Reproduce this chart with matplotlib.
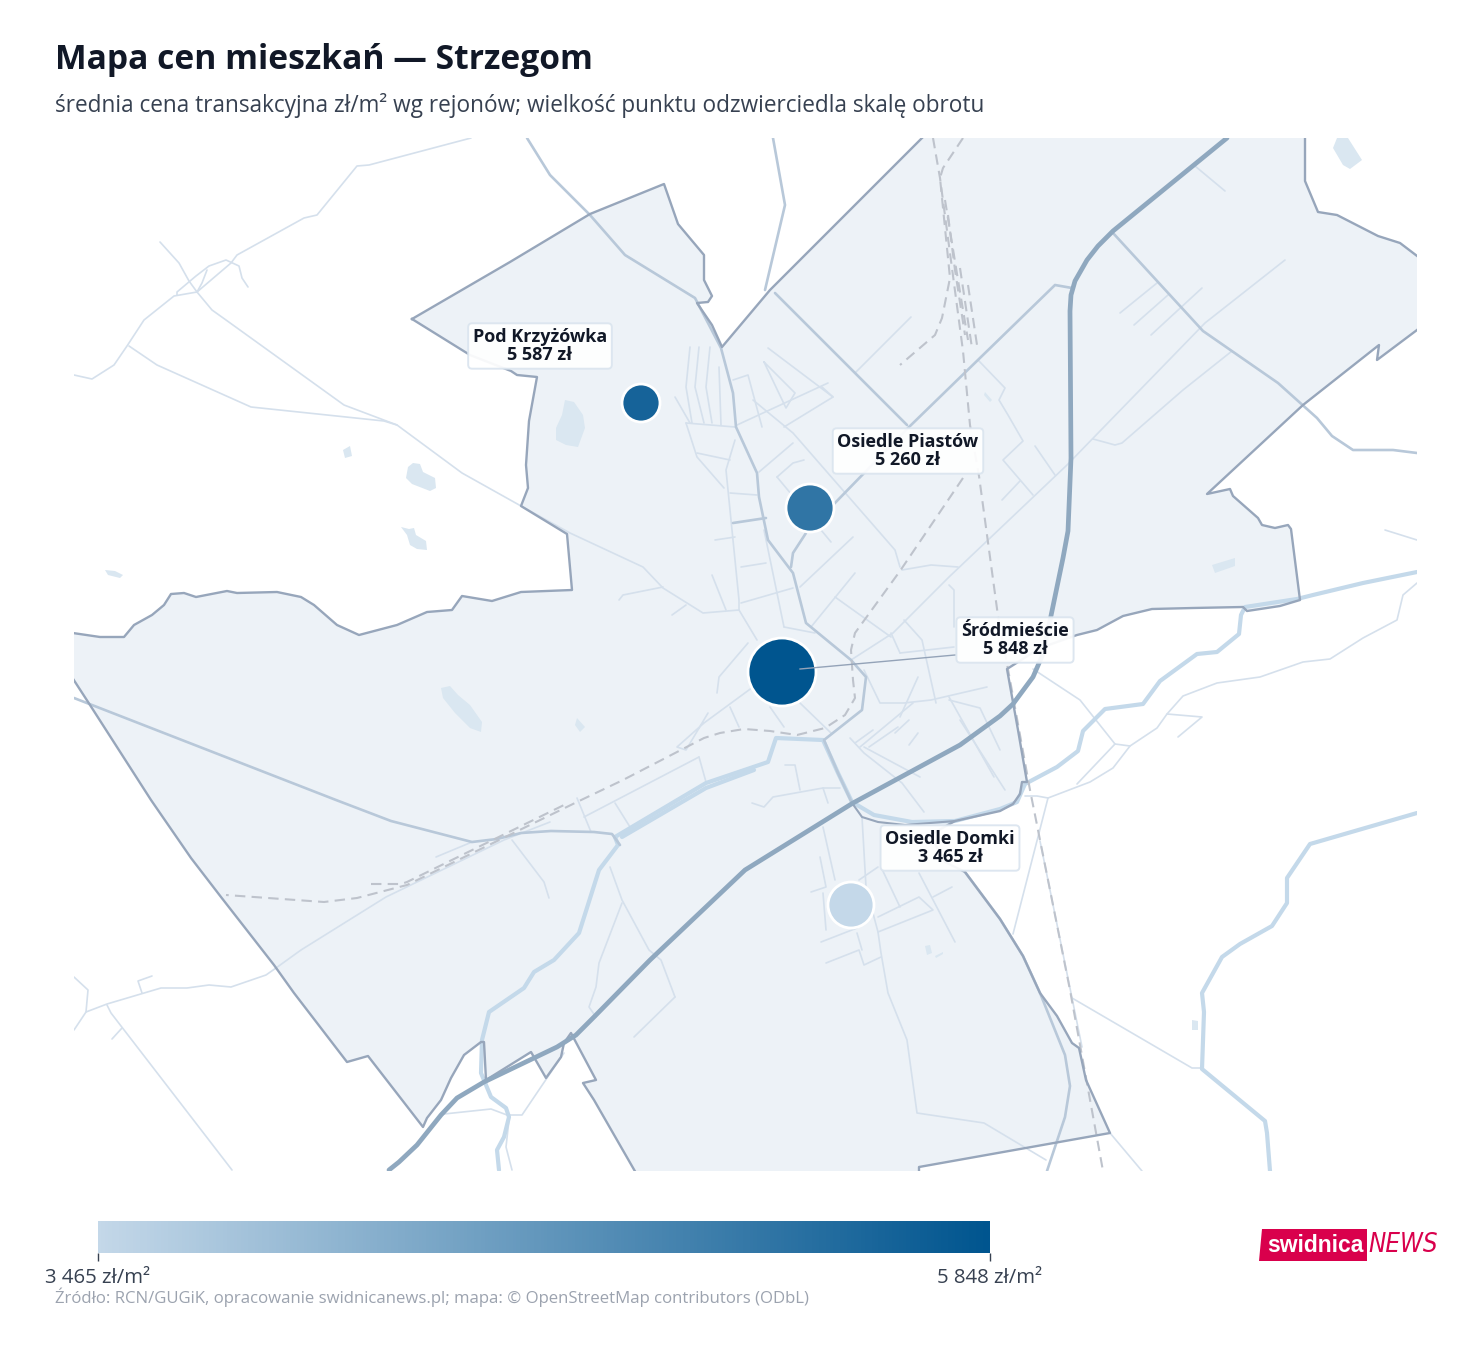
import numpy as np
import matplotlib
matplotlib.use('Agg')
import matplotlib.pyplot as plt
from matplotlib.colors import LinearSegmentedColormap, Normalize

# rejony
names = ['Pod Krzyżówka', 'Osiedle Piastów', 'Śródmieście', 'Osiedle Domki']
prices = [5587, 5260, 5848, 3465]
price_labels = ['5 587 zł', '5 260 zł', '5 848 zł', '3 465 zł']
point_x = [641, 810, 782, 851]
point_y = [403, 508, 672, 905]
radius_px = [19, 24, 34, 23]
label_x = [540, 908, 1015, 950]
label_y = [346, 451, 640, 848]
bar_ticks = [3465, 5848]
bar_labels = ['3 465 zł/m²', '5 848 zł/m²']

# map geometry (projected map units)
boundary = [(412, 319), (510, 262), (590, 214), (664, 184), (678, 224), (704, 255), (704, 280), (712, 296),
            (708, 302), (697, 303), (712, 325), (722, 347), (770, 290), (850, 210), (922, 138), (930, 130),
            (1305, 130), (1305, 181), (1318, 212), (1337, 215), (1378, 236), (1400, 243), (1417, 256),
            (1425, 262), (1425, 323), (1417, 330), (1377, 360), (1379, 345), (1303, 405), (1207, 494),
            (1230, 489), (1233, 496), (1258, 518), (1262, 525), (1275, 528), (1288, 525), (1291, 529), (1300, 600),
            (1280, 606), (1247, 611), (1243, 607), (1193, 608), (1152, 609), (1123, 616), (1097, 630), (1077, 635),
            (1040, 648), (1007, 669), (1018, 730), (1027, 782), (1022, 782), (1020, 794), (1013, 804), (1000, 811),
            (955, 821), (930, 835), (945, 862), (965, 872), (1000, 919), (1023, 956), (1040, 993), (1057, 1016),
            (1072, 1043), (1079, 1048), (1086, 1080), (1110, 1133), (919, 1167), (919, 1180), (640, 1180), (594, 1100),
            (583, 1083), (596, 1080), (571, 1033), (564, 1043), (561, 1057), (546, 1078), (531, 1052), (486, 1080),
            (484, 1042), (481, 1042), (464, 1055), (451, 1078), (441, 1100), (427, 1118), (423, 1127), (368, 1056),
            (347, 1062), (294, 993), (274, 965), (221, 897), (191, 858), (151, 800), (90, 705), (66, 668), (66, 632),
            (100, 637), (124, 637), (134, 625), (152, 615), (164, 605), (171, 594), (184, 593), (196, 597), (217, 593),
            (227, 591), (237, 593), (277, 592), (301, 597), (314, 605), (337, 625), (359, 635), (397, 625), (427, 612),
            (452, 610), (462, 596), (492, 601), (521, 592), (572, 590), (567, 534), (521, 506), (528, 488), (526, 465),
            (529, 421), (537, 377), (517, 375), (511, 371), (470, 355), (412, 319)]
boundary_inner = [(852, 803), (862, 817), (878, 822), (905, 825), (955, 821)]

water = [
    [(565, 400), (574, 402), (583, 415), (585, 428), (578, 447), (566, 445), (556, 440), (556, 428), (562, 415)],
    [(408, 467), (413, 463), (420, 464), (423, 472), (435, 478), (436, 488), (430, 491), (412, 484), (406, 478)],
    [(401, 527), (409, 529), (414, 528), (416, 535), (426, 541), (427, 550), (417, 549), (410, 545), (407, 535)],
    [(441, 688), (450, 686), (458, 695), (470, 705), (482, 722), (481, 732), (470, 728), (455, 713), (443, 698)],
    [(577, 718), (585, 727), (580, 732), (575, 725)],
    [(343, 450), (350, 446), (352, 456), (345, 458)],
    [(105, 570), (115, 571), (123, 575), (120, 578), (108, 575)],
    [(1337, 138), (1348, 138), (1362, 160), (1350, 169), (1343, 165), (1333, 148)],
    [(1192, 1020), (1198, 1021), (1198, 1030), (1192, 1030)],
    [(925, 946), (930, 945), (932, 953), (927, 955)],
    [(1212, 565), (1235, 558), (1235, 566), (1215, 573)],
    [(985, 392), (992, 400), (990, 402), (984, 395)],
    [(935, 956), (943, 952), (943, 954), (936, 958)],
]

thin_roads = [
    [(471, 138), (369, 165), (357, 166), (317, 215), (304, 218), (237, 255), (231, 263), (197, 292), (174, 296),
     (144, 320), (127, 346), (114, 365), (92, 379), (74, 375)],
    [(160, 242), (179, 263), (189, 281), (197, 292), (212, 310), (226, 320), (344, 405), (397, 425), (462, 473),
     (521, 506), (570, 533), (643, 567), (663, 588), (703, 613), (739, 610), (757, 640)],
    [(129, 346), (157, 365), (251, 407), (384, 421), (397, 425)],
    [(177, 295), (177, 292), (196, 276), (209, 266), (226, 260), (239, 266), (242, 278), (248, 287)],
    [(207, 270), (202, 283), (197, 292)],
    [(74, 977), (88, 990), (86, 1012), (74, 1030)],
    [(86, 1012), (107, 1004), (161, 988), (187, 988), (209, 985), (231, 987), (266, 975), (276, 968), (301, 950),
     (386, 897), (504, 840), (550, 822)],
    [(107, 1005), (111, 1013), (232, 1170)], [(122, 1028), (112, 1039)],
    [(142, 993), (138, 981), (152, 976)],
    [(1417, 540), (1385, 530)],
    [(1417, 583), (1403, 595), (1397, 620), (1363, 638), (1330, 659), (1303, 662), (1260, 677), (1217, 683),
     (1183, 696), (1167, 714), (1157, 728), (1130, 746), (1115, 744), (1080, 700), (1033, 669)],
    [(1115, 744), (1077, 784)], [(1130, 746), (1113, 768), (1090, 782), (1048, 798), (1037, 796), (1025, 796)],
    [(1048, 798), (1013, 934)],
    [(1167, 714), (1202, 717), (1178, 737)],
    [(1072, 998), (1192, 1068), (1202, 1068)], [(1040, 841), (1082, 1047)], [(1110, 1133), (1142, 1171)],
    [(444, 1114), (491, 1109), (507, 1115), (522, 1115), (547, 1078), (564, 1053)],
    [(509, 1120), (506, 1147), (512, 1170)],
    [(1285, 260), (1205, 323), (1067, 465), (949, 577), (893, 633), (851, 660)],
    [(1195, 166), (1225, 191)], [(1120, 313), (1157, 283)], [(1134, 325), (1168, 295)], [(1151, 335), (1202, 288)],
    [(1232, 351), (1183, 390), (1122, 443), (1115, 445), (1093, 439)],
    [(911, 317), (855, 373)],
    # centrum
    [(690, 347), (686, 387), (692, 423)], [(699, 347), (695, 387), (704, 423)], [(710, 347), (706, 387), (712, 423)],
    [(719, 367), (721, 425)], [(686, 423), (735, 427)], [(675, 397), (690, 423)],
    [(686, 423), (697, 457), (724, 488)], [(697, 453), (730, 460)],
    [(735, 440), (726, 470), (739, 600), (739, 610)], [(730, 493), (757, 495)], [(715, 540), (735, 537)],
    [(741, 567), (766, 563)], [(741, 603), (793, 588)], [(712, 575), (726, 610)], [(764, 530), (784, 627)],
    [(619, 600), (623, 595), (663, 587)], [(672, 615), (686, 605)],
    [(733, 380), (748, 375), (762, 427)], [(768, 348), (833, 397), (784, 427)],
    [(764, 362), (795, 393), (786, 408), (764, 362)], [(753, 400), (793, 433), (895, 550), (900, 567)],
    [(737, 425), (828, 383)], [(759, 472), (793, 443)], [(777, 477), (793, 463), (804, 460)],
    [(777, 477), (831, 542)], [(853, 537), (800, 587)], [(822, 387), (833, 397)],
    [(902, 570), (931, 565), (958, 567)], [(835, 597), (891, 637)], [(855, 573), (811, 627)],
    [(949, 585), (954, 590), (954, 627)], [(904, 620), (922, 640), (936, 703)],
    [(987, 687), (931, 700), (904, 703), (880, 703), (864, 670)], [(949, 700), (980, 708), (1000, 750)],
    [(918, 677), (900, 717)], [(891, 633), (900, 653)], [(900, 653), (954, 647)],
    [(978, 360), (1005, 388), (999, 400), (1008, 415), (1023, 441), (1003, 460), (1033, 495)],
    [(1035, 446), (1055, 475)], [(1020, 481), (1002, 500)],
    [(753, 687), (704, 723), (677, 747), (686, 750), (708, 713)], [(730, 707), (739, 727)],
    [(784, 627), (815, 633)], [(800, 703), (831, 733)], [(770, 707), (784, 727)],
    [(748, 643), (719, 677), (717, 693)], [(860, 747), (913, 703)], [(898, 727), (869, 747)],
    [(864, 747), (920, 777)], [(949, 697), (994, 777)], [(873, 730), (855, 743)], [(909, 720), (895, 733)],
    [(918, 733), (909, 745)],
    # poludnie
    [(862, 817), (866, 887), (878, 932), (881, 953), (888, 993), (907, 1040), (917, 1113), (984, 1123), (1046, 1160)],
    [(823, 827), (835, 880)], [(820, 857), (826, 887), (811, 892)], [(823, 893), (826, 930)],
    [(821, 942), (857, 928)], [(826, 963), (859, 950), (864, 965), (881, 957)], [(857, 933), (862, 950)],
    [(881, 867), (900, 907)], [(878, 917), (919, 897), (933, 910), (878, 932)], [(919, 873), (955, 942)],
    [(933, 897), (952, 887)], [(859, 880), (878, 867)],
    [(610, 867), (622, 900), (649, 950), (661, 960), (675, 997)], [(675, 997), (634, 1037)],
    [(622, 903), (599, 963), (596, 987), (589, 1007), (596, 1017)],
    [(512, 840), (544, 882), (549, 898)], [(584, 817), (699, 757)], [(699, 757), (706, 782)],
    [(577, 798), (591, 832)], [(615, 803), (630, 827)], [(436, 857), (472, 842)],
    [(752, 803), (764, 807), (773, 797), (823, 788), (840, 788)], [(785, 765), (795, 765), (800, 790)],
    [(823, 788), (828, 803)], [(850, 738), (864, 753), (902, 783), (924, 812)], [(960, 720), (1005, 790)],
]

major_roads = [
    [(527, 138), (550, 175), (590, 215), (625, 255), (695, 298), (721, 348), (733, 393), (736, 427), (757, 473),
     (759, 497), (768, 540), (793, 573), (806, 623), (851, 660), (866, 677), (862, 710), (824, 740), (838, 773),
     (852, 803)],
    [(1113, 233), (1203, 331), (1278, 383), (1317, 418), (1332, 436), (1353, 450), (1393, 450), (1417, 453)],
    [(1072, 288), (1055, 285), (908, 428), (833, 505)],
    [(806, 533), (793, 553), (791, 567)],
    [(775, 293), (907, 425)],
    [(74, 698), (336, 800), (391, 821), (472, 842), (497, 839), (521, 833), (551, 831), (594, 832), (612, 834),
     (620, 845)],
    [(1047, 1171), (1065, 1117), (1070, 1086), (1065, 1055), (1040, 993), (1023, 956), (1000, 919), (965, 872)],
    [(773, 138), (785, 205), (765, 290)],
    [(733, 523), (766, 518)],
]

motorway = [(1227, 138), (1113, 231), (1098, 246), (1087, 260), (1075, 281), (1071, 295), (1070, 311), (1071, 458),
            (1068, 531), (1063, 558), (1052, 611), (1043, 654), (1033, 677), (1013, 704), (1000, 716), (960, 745),
            (853, 803), (745, 870), (650, 960), (594, 1017), (576, 1035), (557, 1047), (484, 1082), (457, 1098),
            (441, 1115), (417, 1145), (399, 1162), (389, 1170)]

rivers = [
    [(1417, 572), (1363, 583), (1313, 595), (1297, 599), (1245, 607), (1241, 615), (1239, 634), (1217, 652),
     (1197, 654), (1160, 681), (1143, 704), (1105, 709), (1083, 731), (1078, 751), (1057, 767), (1025, 784),
     (1017, 802), (1000, 809), (955, 821), (912, 822), (874, 815), (852, 802), (838, 773), (823, 740), (776, 738),
     (768, 762), (706, 783), (615, 837), (618, 845), (599, 870), (579, 933), (554, 960), (534, 972), (524, 988),
     (489, 1012), (482, 1040), (481, 1073), (491, 1097), (506, 1108), (509, 1117), (504, 1137), (497, 1150),
     (499, 1170)],
    [(1417, 813), (1310, 844), (1287, 878), (1287, 903), (1272, 926), (1240, 944), (1222, 957), (1202, 993),
     (1204, 1012), (1202, 1069), (1265, 1121), (1267, 1133), (1270, 1171)],
    [(754, 770), (706, 788), (622, 837)],
]

rail = [
    [(933, 138), (940, 178), (963, 351), (970, 425), (979, 476), (998, 616), (1010, 680), (1030, 790), (1070, 990),
     (1103, 1171)],
    [(963, 138), (943, 168), (940, 178), (950, 278), (942, 318), (935, 335), (900, 365)],
    [(963, 478), (900, 571), (855, 633), (851, 650), (853, 680), (855, 698), (845, 715), (825, 728), (797, 735),
     (770, 731), (744, 729), (720, 733), (704, 738), (623, 780), (577, 802), (407, 885), (357, 898), (324, 902),
     (226, 895)],
    [(968, 285), (977, 345)], [(960, 268), (972, 348)], [(945, 200), (958, 280), (968, 340)],
    [(948, 215), (955, 270), (965, 335)],
    [(371, 884), (401, 884), (407, 882), (564, 805)],
]

blue_cmap = LinearSegmentedColormap.from_list('ceny', ['#c4d8e9', '#00558f'])
norm = Normalize(min(prices), max(prices))


def draw_lines(ax, paths, color, lw, zorder, **kw):
    for p in paths:
        pts = np.array(p)
        ax.plot(pts[:, 0], pts[:, 1], color=color, lw=lw, zorder=zorder,
                solid_joinstyle='round', solid_capstyle='round', **kw)


plt.rcParams['font.family'] = ['Open Sans', 'Noto Sans', 'DejaVu Sans']
W, H = 1481, 1352
fig = plt.figure(figsize=(W / 100, H / 100), dpi=100, facecolor='white')

ax = fig.add_axes([74 / W, 1 - 1171 / H, (1417 - 74) / W, (1171 - 138) / H])
ax.set_xlim(74, 1417)
ax.set_ylim(1171, 138)
ax.axis('off')

b = np.array(boundary)
ax.fill(b[:, 0], b[:, 1], color='#edf2f7', lw=0, zorder=1)
for w in water:
    w = np.array(w)
    ax.fill(w[:, 0], w[:, 1], color='#dae7f1', lw=0, zorder=2)
draw_lines(ax, thin_roads, '#d5e0ec', 1.2, 3)
draw_lines(ax, rivers, '#c4d9ea', 3.0, 4)
draw_lines(ax, major_roads, '#b8c8d9', 1.9, 5)
for p in rail:
    p = np.array(p)
    ax.plot(p[:, 0], p[:, 1], color='#bec3cc', lw=1.5, ls=(0, (5, 3)), zorder=6)
ax.plot(b[:, 0], b[:, 1], color='#97a6bb', lw=1.7, zorder=7)
draw_lines(ax, [boundary_inner], '#97a6bb', 1.5, 7)
draw_lines(ax, [motorway], '#8fa8bf', 3.4, 8)

ax.scatter(point_x, point_y, s=[(2 * r * 0.72) ** 2 for r in radius_px], c=prices, cmap=blue_cmap, norm=norm,
           edgecolors='white', linewidths=2.0, zorder=10)
# linia do etykiety
ax.plot([800, 955], [669, 655], color='#94a3b8', lw=1.0, zorder=11)
for name, val, x, y in zip(names, price_labels, label_x, label_y):
    ax.text(x, y, name + '\n' + val, ha='center', va='center', fontsize=13, fontweight='bold', color='#111827',
            linespacing=1.0, zorder=12,
            bbox=dict(boxstyle='round,pad=0.26,rounding_size=0.22', fc='white', ec='#dbe5ef', lw=1.4, alpha=0.93))

# tekst i logo
page = fig.add_axes([0, 0, 1, 1], facecolor='none')
page.set_xlim(0, W)
page.set_ylim(H, 0)
page.axis('off')
page.text(55, 60, 'Mapa cen mieszkań — Strzegom', fontsize=24.2, fontweight='bold', color='#111827', va='center')
page.text(55, 106, 'średnia cena transakcyjna zł/m² wg rejonów; wielkość punktu odzwierciedla skalę obrotu',
          fontsize=16.3, color='#374151', va='center')
page.text(55, 1297, 'Źródło: RCN/GUGiK, opracowanie swidnicanews.pl; mapa: © OpenStreetMap contributors (ODbL)',
          fontsize=12.1, color='#9ca3af', va='center')
page.fill([1262, 1367, 1367, 1259], [1229, 1229, 1261, 1261], color='#d9004c', lw=0)
page.text(1315, 1245, 'swidnica', fontsize=16.5, fontweight='bold', color='white', ha='center', va='center',
          family=['Liberation Sans', 'DejaVu Sans'])
page.text(1403, 1245, 'NEWS', fontsize=18.5, style='italic', color='#d9004c', ha='center', va='center',
          family=['DejaVu Sans'], stretch='condensed')

# skala
cax = fig.add_axes([98 / W, 1 - 1253 / H, (990 - 98) / W, 32 / H])
gradient = np.linspace(min(prices), max(prices), 256).reshape(1, -1)
cax.imshow(gradient, aspect='auto', cmap=blue_cmap, norm=norm, extent=[min(prices), max(prices), 0, 1])
cax.set_yticks([])
cax.set_xticks(bar_ticks)
cax.set_xticklabels(bar_labels, fontsize=14.7, color='#374151')
cax.tick_params(axis='x', length=6, width=1, color='#374151', pad=5)
for s in cax.spines.values():
    s.set_visible(False)

fig.savefig('out.png', dpi=100, facecolor='white')
